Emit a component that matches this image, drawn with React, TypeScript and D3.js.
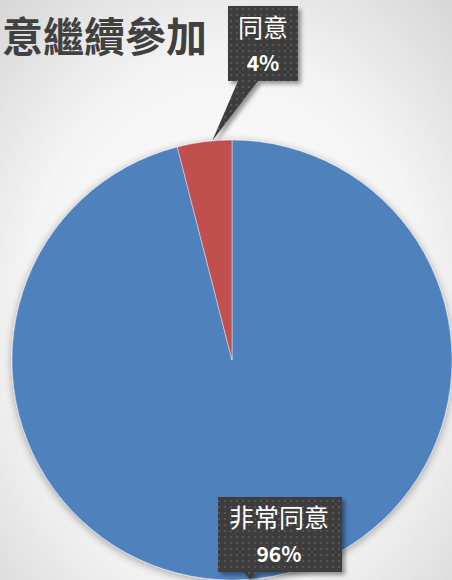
import React from "react";
import * as d3 from "d3";

const categories = ["非常同意", "同意"];
const values = [96, 4];
const colors = ["#4F81BD", "#C0504D"];
const titleText = "意繼續參加";

const W = 452;
const H = 580;
const cx = 232;
const cy = 360;
const R = 220;

export default function App() {
  const pie = d3.pie<number>().sort(null).value((d) => d)(values);
  const arc = d3.arc<d3.PieArcDatum<number>>().innerRadius(0).outerRadius(R);
  const total = d3.sum(values);
  const font = "'Noto Sans CJK TC', 'Noto Sans', sans-serif";

  const redMid = (pie[1].startAngle + pie[1].endAngle) / 2;
  const tipX = cx + Math.sin(redMid) * (R + 1) + 8;
  const tipY = cy - Math.cos(redMid) * (R + 1);

  return (
    <svg width={W} height={H} style={{ position: "absolute", left: 0, top: 0 }}>
      <defs>
        <radialGradient id="bg" cx="50%" cy="55%" r="75%">
          <stop offset="0%" stopColor="#ffffff" />
          <stop offset="60%" stopColor="#f4f4f4" />
          <stop offset="100%" stopColor="#d6d6d6" />
        </radialGradient>
        <pattern id="dots" width="6" height="6" patternUnits="userSpaceOnUse">
          <rect width="6" height="6" fill="#3d3d3d" />
          <rect x="2" y="2" width="2" height="2" fill="#555555" />
        </pattern>
        <filter id="shadow" x="-20%" y="-20%" width="140%" height="140%">
          <feGaussianBlur in="SourceAlpha" stdDeviation="4" />
          <feOffset dx="0" dy="2" />
          <feComponentTransfer>
            <feFuncA type="linear" slope="0.35" />
          </feComponentTransfer>
          <feMerge>
            <feMergeNode />
            <feMergeNode in="SourceGraphic" />
          </feMerge>
        </filter>
        <filter id="boxshadow" x="-20%" y="-20%" width="150%" height="150%">
          <feGaussianBlur in="SourceAlpha" stdDeviation="2" />
          <feOffset dx="3" dy="3" />
          <feComponentTransfer>
            <feFuncA type="linear" slope="0.4" />
          </feComponentTransfer>
          <feMerge>
            <feMergeNode />
            <feMergeNode in="SourceGraphic" />
          </feMerge>
        </filter>
      </defs>
      <rect width={W} height={H} fill="url(#bg)" />
      <text x={2} y={52} fontFamily={font} fontWeight={700} fontSize={41} fill="#404040">
        {titleText}
      </text>
      <g transform={`translate(${cx},${cy})`} filter="url(#shadow)">
        {pie.map((p, i) => (
          <path key={i} d={arc(p) || ""} fill={colors[i]} stroke="#ffffff" strokeOpacity={0.5} strokeWidth={0.8} />
        ))}
      </g>
      <g filter="url(#boxshadow)">
        <path
          d={`M228,6 H298 V81 H258 L${tipX},${tipY} L238,81 H228 Z`}
          fill="url(#dots)"
        />
      </g>
      <text x={263} y={37} textAnchor="middle" fontFamily={font} fontSize={25} fill="#ffffff">
        {categories[1]}
      </text>
      <text x={263} y={71} textAnchor="middle" fontFamily={font} fontWeight={700} fontSize={21} fill="#ffffff">
        {Math.round((values[1] / total) * 100)}%
      </text>
      <g filter="url(#boxshadow)">
        <path d={`M218,497 H342 V572 H256 L250,580 L244,572 H218 Z`} fill="url(#dots)" />
      </g>
      <text x={279} y={527} textAnchor="middle" fontFamily={font} fontSize={25} fill="#ffffff">
        {categories[0]}
      </text>
      <text x={279} y={562} textAnchor="middle" fontFamily={font} fontWeight={700} fontSize={21} fill="#ffffff">
        {Math.round((values[0] / total) * 100)}%
      </text>
    </svg>
  );
}
